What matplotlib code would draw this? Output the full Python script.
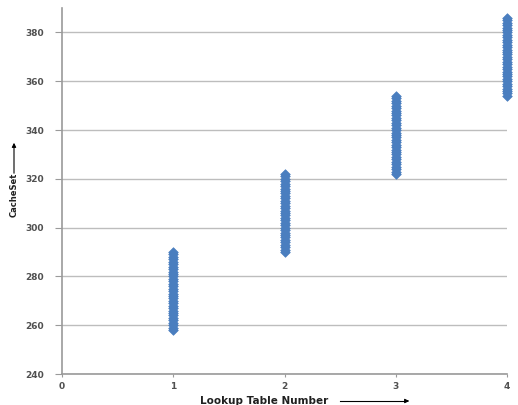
import matplotlib.pyplot as plt

# Lookup table number and the cache sets it covers
table1 = [258, 259, 260, 261, 262, 263, 264, 265, 266, 267, 268, 269, 270, 271, 272, 273, 274,
          275, 276, 277, 278, 279, 280, 281, 282, 283, 284, 285, 286, 287, 288, 289, 290]
table2 = [290, 291, 292, 293, 294, 295, 296, 297, 298, 299, 300, 301, 302, 303, 304, 305, 306,
          307, 308, 309, 310, 311, 312, 313, 314, 315, 316, 317, 318, 319, 320, 321, 322]
table3 = [322, 323, 324, 325, 326, 327, 328, 329, 330, 331, 332, 333, 334, 335, 336, 337, 338,
          339, 340, 341, 342, 343, 344, 345, 346, 347, 348, 349, 350, 351, 352, 353, 354]
table4 = [354, 355, 356, 357, 358, 359, 360, 361, 362, 363, 364, 365, 366, 367, 368, 369, 370,
          371, 372, 373, 374, 375, 376, 377, 378, 379, 380, 381, 382, 383, 384, 385, 386]
tables = [1, 2, 3, 4]
cache_sets = [table1, table2, table3, table4]

xs, ys = [], []
for t, s in zip(tables, cache_sets):
    xs += [t] * len(s)
    ys += s

fig = plt.figure(figsize=(5.18, 4.05), dpi=100)
ax = fig.add_axes([0.1197, 0.0765, 0.8593, 0.9035])

ax.scatter(xs, ys, marker='D', s=24, c='#4A7EBF', edgecolors='#4A7EBF', linewidths=0.5,
           zorder=3, clip_on=False)

ax.set_xlim(0, 4)
ax.set_ylim(240, 390)
ax.set_xticks(range(0, 5))
ax.set_yticks(range(240, 381, 20))
ax.yaxis.grid(True, color='#bdbdbd', linewidth=1)
ax.set_axisbelow(True)

for side in ['top', 'right']:
    ax.spines[side].set_visible(False)
for side in ['left', 'bottom']:
    ax.spines[side].set_color('#9a9a9a')
    ax.spines[side].set_linewidth(1.2)
ax.tick_params(axis='y', length=5, color='#9a9a9a', labelsize=6.5, labelcolor='#505050', pad=8)
ax.tick_params(axis='x', length=2, color='#9a9a9a', labelsize=6.5, labelcolor='#505050', pad=4)
for lab in ax.get_xticklabels() + ax.get_yticklabels():
    lab.set_fontweight('bold')

# axis titles with arrows
fig.text(200 / 518, 1 - 401 / 405, 'Lookup Table Number', ha='left', va='center',
         fontsize=7.5, fontweight='bold', color='#202020')
fig.add_artist(plt.Line2D([340 / 518, 406 / 518], [1 - 401 / 405] * 2, color='black', lw=0.8))
ax.annotate('', xy=(412 / 518, 1 - 401 / 405), xytext=(404 / 518, 1 - 401 / 405),
            xycoords='figure fraction', textcoords='figure fraction',
            arrowprops=dict(arrowstyle='-|>', color='black', lw=0.8, mutation_scale=6))
fig.text(14 / 518, 1 - 195 / 405, 'CacheSet', rotation=90, ha='center', va='center',
         fontsize=6, fontweight='bold', color='#202020')
ax.annotate('', xy=(14 / 518, 1 - 140 / 405), xytext=(14 / 518, 1 - 176 / 405),
            xycoords='figure fraction', textcoords='figure fraction',
            arrowprops=dict(arrowstyle='-|>', color='black', lw=0.8, mutation_scale=6))

plt.savefig('out.png', dpi=100)
